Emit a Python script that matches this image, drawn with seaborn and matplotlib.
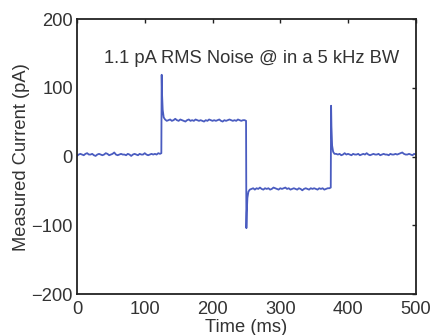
import matplotlib
matplotlib.use("Agg")
import matplotlib.pyplot as plt
import seaborn as sns
import numpy as np
import pandas as pd

# values (pA), one list per segment
seg1 = [1, 3, 4, 3, 2, 4, 5, 3, 3, 4, 2, 1, 3, 4, 3, 2, 3, 5, 4, 2, 3, 4, 6, 3, 2,
        3, 4, 3, 3, 2, 4, 3, 1, 3, 4, 3, 2, 4, 3, 3, 5, 3, 2, 3, 4, 3, 4, 3, 5, 4]
rise1_t = [124.5, 125.0, 125.5, 126.5, 128.0, 130.0]
rise1_v = [5, 119, 92, 68, 57, 54]
seg2 = [52, 53, 54, 52, 53, 55, 53, 52, 54, 53, 52, 51, 53, 54, 52, 53, 52, 54, 53, 52,
        53, 52, 51, 53, 52, 54, 53, 52, 53, 52, 53, 54, 52, 51, 53, 52, 53, 54, 53, 52,
        53, 52, 54, 53, 52, 53, 53]
fall_t = [249.5, 250.0, 250.5, 251.5, 253.0, 255.0]
fall_v = [52, -104, -82, -60, -51, -48]
seg3 = [-47, -46, -48, -46, -47, -45, -47, -48, -46, -47, -46, -48, -47, -45, -46, -47,
        -48, -46, -47, -46, -45, -47, -46, -48, -47, -46, -47, -48, -46, -47, -49, -47,
        -46, -47, -48, -46, -47, -46, -47, -48, -46, -47, -46, -48, -47, -46, -46]
rise2_t = [374.5, 375.0, 375.5, 376.5, 378.0, 380.0]
rise2_v = [-45, 74, 44, 16, 7, 4]
seg4 = [4, 3, 4, 2, 3, 5, 3, 4, 3, 2, 4, 3, 3, 4, 2, 3, 4, 3, 5, 3, 2, 3, 4, 3,
        3, 4, 2, 3, 4, 3, 3, 2, 4, 3, 3, 4, 3, 4, 5, 6, 4, 3, 3, 4, 3, 2, 4, 3]

x_ticks = [0, 100, 200, 300, 400, 500]
y_ticks = [-200, -100, 0, 100, 200]

time = np.concatenate([
    np.linspace(0, 122.5, len(seg1)), rise1_t,
    np.linspace(132.5, 247.5, len(seg2)), fall_t,
    np.linspace(257.5, 372.5, len(seg3)), rise2_t,
    np.linspace(382.5, 500, len(seg4)),
])
current = np.concatenate([seg1, rise1_v, seg2, fall_v, seg3, rise2_v, seg4])
df = pd.DataFrame({"t": time, "i": current})

sns.set_style("white")
plt.rcParams["font.family"] = ["Liberation Sans", "DejaVu Sans"]

fs = 13.2
fig = plt.figure(figsize=(4.3, 3.35), dpi=100)
ax = fig.add_axes([0.179, 0.122, 0.788, 0.821])
sns.lineplot(data=df, x="t", y="i", ax=ax, color="#4a5cc0", linewidth=1.3,
             estimator=None, sort=False)

ax.set_xlim(0, 500)
ax.set_ylim(-200, 200)
ax.set_xticks(x_ticks)
ax.set_yticks(y_ticks)
ax.set_yticklabels([str(v).replace("-", "\u2212") for v in y_ticks])
ax.tick_params(direction="in", top=True, right=True, length=3, width=1,
               labelsize=fs, labelcolor="#333333", colors="#222222")
ax.tick_params(axis="x", pad=5)
ax.tick_params(axis="y", pad=3)
for s in ax.spines.values():
    s.set_visible(True)
    s.set_color("#222222")
    s.set_linewidth(1.3)
ax.set_xlabel("Time (ms)", fontsize=fs, color="#333333", labelpad=1)
ax.set_ylabel("Measured Current (pA)", fontsize=fs, color="#333333", labelpad=1)
ax.text(258, 143, "1.1 pA RMS Noise @ in a 5 kHz BW", ha="center", va="center",
        fontsize=fs, color="#333333")

fig.savefig("out.png", dpi=100)
